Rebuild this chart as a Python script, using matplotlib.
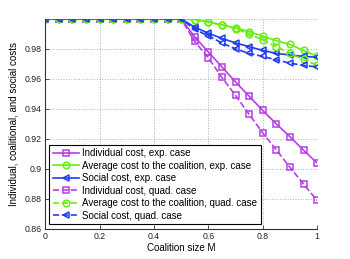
import numpy as np
import matplotlib.pyplot as plt

plt.rcParams['font.family'] = ['Liberation Sans', 'DejaVu Sans']

# coalition size
M = np.linspace(0, 1, 21)

flat = [1.0] * 11
ind_exp = flat + [0.988, 0.978, 0.968, 0.958, 0.9485, 0.939, 0.930, 0.9215, 0.9125, 0.904]
avg_exp = flat + [0.9995, 0.998, 0.996, 0.994, 0.9915, 0.9885, 0.9855, 0.983, 0.979, 0.975]
soc_exp = flat + [0.9945, 0.9905, 0.987, 0.984, 0.9815, 0.979, 0.977, 0.976, 0.975, 0.9745]
ind_quad = flat + [0.985, 0.974, 0.961, 0.949, 0.9365, 0.924, 0.9127, 0.9011, 0.890, 0.879]
avg_quad = flat + [0.9995, 0.998, 0.996, 0.9935, 0.990, 0.986, 0.9815, 0.977, 0.973, 0.969]
soc_quad = flat + [0.993, 0.9887, 0.984, 0.980, 0.977, 0.975, 0.9727, 0.9705, 0.969, 0.968]

purple = '#b63ee8'
green = '#66ee11'
blue = '#1f3df0'

fig = plt.figure(figsize=(3.5, 2.59), dpi=100)
ax = fig.add_axes([0.129, 0.116, 0.777, 0.811])

kw = dict(lw=1.2, markersize=4.8, markerfacecolor='none', markeredgewidth=1.1)
ax.plot(M, ind_exp, '-', marker='s', color=purple, label='Individual cost, exp. case', **kw)
ax.plot(M, avg_exp, '-', marker='o', color=green, label='Average cost to the coalition, exp. case', **kw)
ax.plot(M, soc_exp, '-', marker='<', color=blue, label='Social cost, exp. case', **kw)
ax.plot(M, ind_quad, '--', marker='s', color=purple, label='Individual cost, quad. case', **kw)
ax.plot(M, avg_quad, '--', marker='o', color=green, label='Average cost to the coalition, quad. case', **kw)
ax.plot(M, soc_quad, '--', marker='<', color=blue, label='Social cost, quad. case', **kw)

ax.set_xlim(0, 1)
ax.set_ylim(0.86, 1.0)
ax.set_xticks([0, 0.2, 0.4, 0.6, 0.8, 1])
ax.set_xticklabels(['0', '0.2', '0.4', '0.6', '0.8', '1'])
ax.set_yticks([0.86, 0.88, 0.9, 0.92, 0.94, 0.96, 0.98, 1.0])
ax.set_yticklabels(['0.86', '0.88', '0.9', '0.92', '0.94', '0.96', '0.98', ''])
ax.grid(True, linestyle=':', color='#b0b0b0', linewidth=0.7)
ax.spines['top'].set_visible(False)
ax.spines['right'].set_visible(False)
ax.spines['left'].set_color('#333333')
ax.spines['bottom'].set_color('#333333')
ax.tick_params(direction='in', length=3, width=0.6, labelsize=6.3, colors='#333333', labelcolor='#222222', pad=2.5)

ax.set_xlabel('Coalition size M', fontsize=7, labelpad=1)
ax.set_ylabel('Individual, coalitional, and social costs', fontsize=7, labelpad=4)

leg = ax.legend(loc='lower left', bbox_to_anchor=(0.015, 0.024), borderaxespad=0,
                fontsize=7, handlelength=2.7, labelspacing=0.25, handletextpad=0.35,
                borderpad=0.35, fancybox=False, framealpha=1, edgecolor='black')
leg.get_frame().set_linewidth(0.8)

fig.savefig('out.png', dpi=100)
